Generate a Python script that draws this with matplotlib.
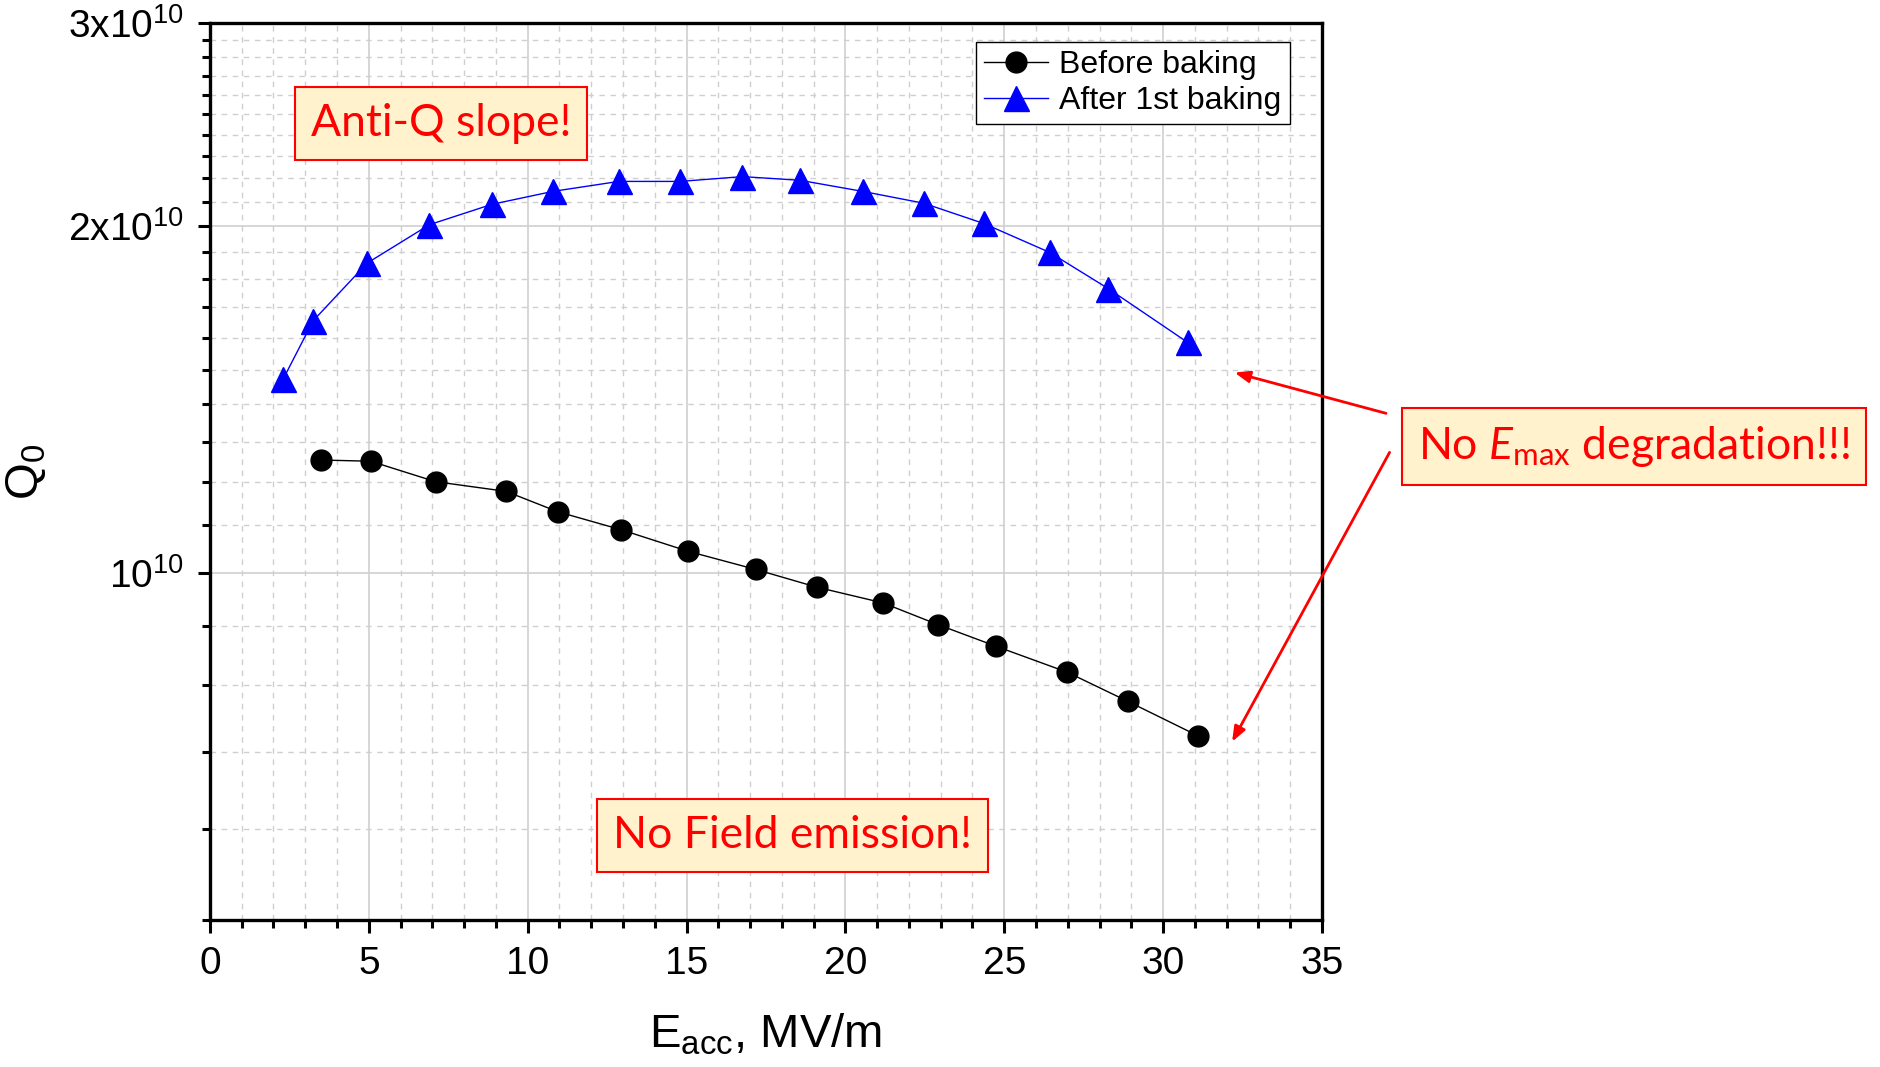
import numpy as np
import matplotlib
matplotlib.use("Agg")
import matplotlib.pyplot as plt
from matplotlib.ticker import FixedLocator, MultipleLocator, NullFormatter

plt.rcParams['font.family'] = ['Liberation Sans', 'DejaVu Sans']
plt.rcParams['mathtext.fontset'] = 'custom'
plt.rcParams['mathtext.rm'] = 'Liberation Sans'
plt.rcParams['mathtext.it'] = 'Lato:italic'
plt.rcParams['mathtext.sf'] = 'Lato'

# Before baking
e_before = [3.51, 5.06, 7.10, 9.32, 10.95, 12.95, 15.06, 17.18, 19.10,
            21.18, 22.91, 24.73, 26.99, 28.88, 31.11]
q_before = [1.253e10, 1.250e10, 1.200e10, 1.177e10, 1.130e10, 1.090e10,
            1.044e10, 1.007e10, 0.972e10, 0.942e10, 0.902e10, 0.864e10,
            0.820e10, 0.774e10, 0.722e10]

# After 1st baking
e_after = [2.30, 3.25, 4.95, 6.91, 8.87, 10.80, 12.87, 14.80, 16.76,
           18.57, 20.54, 22.46, 24.35, 26.43, 28.27, 30.77]
q_after = [1.472e10, 1.655e10, 1.857e10, 2.005e10, 2.088e10, 2.143e10,
           2.186e10, 2.186e10, 2.207e10, 2.191e10, 2.143e10, 2.093e10,
           2.010e10, 1.897e10, 1.765e10, 1.585e10]

y_major = [1e10, 2e10, 3e10]
y_major_labels = [r'$10^{10}$', r'$2\mathrm{x}10^{10}$', r'$3\mathrm{x}10^{10}$']
y_minor = [5e9, 6e9, 7e9, 8e9, 9e9] + [k * 1e9 for k in range(11, 20)] + [k * 1e9 for k in range(21, 30)]

fig = plt.figure(figsize=(18.81, 10.67), dpi=100)
ax = fig.add_axes([0.1116, 0.1378, 0.5912, 0.8407])

ax.plot(e_before, q_before, color='black', lw=1.0, marker='o', markersize=15,
        label='Before baking')
ax.plot(e_after, q_after, color='blue', lw=1.0, marker='^', markersize=18,
        label='After 1st baking')

ax.set_yscale('log')
ax.set_xlim(0, 35)
ax.set_ylim(5e9, 3e10)

ax.xaxis.set_major_locator(MultipleLocator(5))
ax.xaxis.set_minor_locator(MultipleLocator(1))
ax.yaxis.set_major_locator(FixedLocator(y_major))
ax.yaxis.set_minor_locator(FixedLocator(y_minor))
ax.set_yticklabels(y_major_labels)
ax.yaxis.set_minor_formatter(NullFormatter())

ax.grid(which='major', color='#d0d0d0', lw=1.2, ls='-')
ax.grid(which='minor', color='#cfcfcf', lw=1.0, ls=(0, (4, 4)))
ax.set_axisbelow(True)

for s in ax.spines.values():
    s.set_linewidth(2.4)
ax.tick_params(which='major', direction='out', length=9, width=2.2,
               labelsize=28, pad=10)
ax.tick_params(which='minor', direction='out', length=6, width=2.2)

ax.set_xlabel(r'$\mathrm{E}_{\mathrm{acc}}$, MV/m', fontsize=34, labelpad=22)
ax.set_ylabel(r'$\mathrm{Q}_{0}$', fontsize=34, labelpad=14)

leg = ax.legend(loc='upper right', fontsize=23, frameon=True, fancybox=False,
                framealpha=1, edgecolor='black', borderpad=0.25,
                handlelength=2.0, handletextpad=0.35, labelspacing=0.2,
                borderaxespad=0, bbox_to_anchor=(0.971, 0.979))
leg.get_frame().set_linewidth(1.0)

box = dict(boxstyle='square,pad=0.36', facecolor='#FFF2CC', edgecolor='red', lw=1.5)
ax.text(0.208, 0.888, 'Anti-Q slope!', transform=ax.transAxes, fontsize=32,
        color='red', family='Lato', ha='center', va='center', bbox=box)
ax.text(0.524, 0.094, 'No Field emission!', transform=ax.transAxes, fontsize=32,
        color='red', family='Lato', ha='center', va='center', bbox=box)
ax.text(1.086, 0.528, r'No $\mathit{E}_{\mathsf{max}}$ degradation!!!',
        transform=ax.transAxes, fontsize=32, color='red', family='Lato',
        ha='left', va='center', bbox=box, clip_on=False)

arrow = dict(arrowstyle='-|>,head_length=0.9,head_width=0.35', color='red', lw=2.0)
ax.annotate('', xy=(0.919, 0.611), xytext=(1.060, 0.564),
            xycoords='axes fraction', textcoords='axes fraction', arrowprops=arrow,
            annotation_clip=False)
ax.annotate('', xy=(0.918, 0.196), xytext=(1.062, 0.524),
            xycoords='axes fraction', textcoords='axes fraction', arrowprops=arrow,
            annotation_clip=False)

fig.savefig('out.png', dpi=100)
